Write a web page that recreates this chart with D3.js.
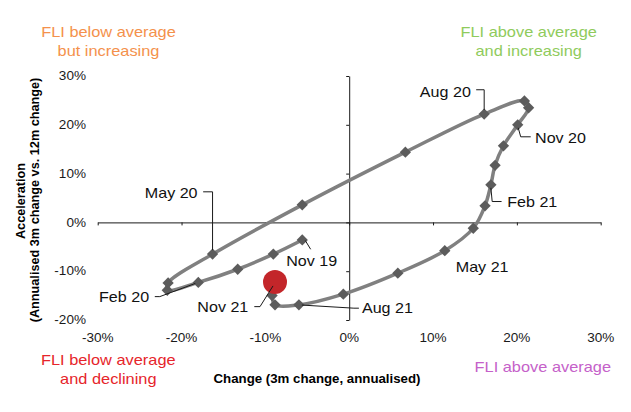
<!DOCTYPE html>
<html>
<head>
<meta charset="utf-8">
<script src="https://cdn.jsdelivr.net/npm/d3@7"></script>
<style>
  html, body { margin: 0; padding: 0; background: #ffffff; }
  svg { display: block; font-family: "Liberation Sans", Arial, sans-serif; }
</style>
</head>
<body>
<svg id="chart" width="631" height="412"></svg>
<script>
// ---------- data ----------
const months = ["Nov 19","Dec 19","Jan 20","Feb 20","Mar 20","Apr 20","May 20","Jun 20","Jul 20","Aug 20",
  "Sep 20","Oct 20","Nov 20","Dec 20","Jan 21","Feb 21","Mar 21","Apr 21","May 21","Jun 21","Jul 21",
  "Aug 21","Sep 21","Oct 21","Nov 21"];
const changeVals = [-5.6,-9.05,-13.3,-18.0,-21.7,-21.6,-16.3,-5.6,6.7,16.1,
  20.9,21.4,20.1,18.4,17.4,16.9,16.2,14.8,11.4,5.8,-0.7,
  -6.0,-8.85,-9.2,-8.85];
const accelVals = [-3.6,-6.5,-9.6,-12.3,-13.9,-12.4,-6.5,3.6,14.4,22.2,
  24.9,23.5,20.0,15.7,11.7,7.7,3.4,-1.2,-5.8,-10.4,-14.7,
  -16.9,-16.9,-15.0,-12.2];
const labelledMonths = ["Nov 19","Feb 20","May 20","Aug 20","Nov 20","Feb 21","May 21","Aug 21","Nov 21"];
const highlightMonth = "Nov 21";
const xTicks = [-30,-20,-10,0,10,20,30];
const yTicks = [-20,-10,0,10,20,30];
const xTitle = "Change (3m change, annualised)";
const yTitle1 = "Acceleration";
const yTitle2 = "(Annualised 3m change vs. 12m change)";
const quadrantTexts = [
  ["FLI below average", "but increasing"],
  ["FLI above average", "and increasing"],
  ["FLI below average", "and declining"],
  ["FLI above average"]
];

// ---------- layout (pixel placement, not data) ----------
const quadrantLayout = [
  {x: 108.5, y: 36.7, color: "#f4914c"},
  {x: 528.7, y: 36.7, color: "#8fcb5c"},
  {x: 108.3, y: 365,  color: "#e6252b"},
  {x: 542.8, y: 371.7, color: "#c561c9"}
];
// label offsets relative to the marker, plus leader polylines (first point = leader start)
const labelLayout = {
  "Nov 19": {dx: -16, dy: 25.7, anchor: "start", leader: [[3,0.5],[8.4,9.3]]},
  "Feb 20": {dx: -49.2, dy: 19.8, anchor: "end", leader: [[-43.5,14.2],[-38.5,14.2],[-3,1]]},
  "May 20": {dx: -15, dy: -56.3, anchor: "end", leader: [[-9.4,-62.3],[0,-62.3],[0,-4]]},
  "Aug 20": {dx: -13.3, dy: -16.6, anchor: "end", leader: [[-8,-24.3],[0,-24.3],[0,-4]]},
  "Nov 20": {dx: 17.3, dy: 18.3, anchor: "start", leader: [[0.5,3],[3,12],[13,12]]},
  "Feb 21": {dx: 16.3, dy: 22.3, anchor: "start", leader: [[0,3],[1.3,16.7],[10.7,16.7]]},
  "May 21": {dx: 11, dy: 21.6, anchor: "start", leader: null},
  "Aug 21": {dx: 63, dy: 8.3, anchor: "start", leader: [[3,0.2],[55,3.3],[60,3.3]]},
  "Nov 21": {dx: -26.7, dy: 30.3, anchor: "end", leader: [[-20.7,24.7],[-15,24.7],[-2,4]]}
};

const svg = d3.select("#chart");
const x = d3.scaleLinear().domain([-30, 30]).range([97.7, 600.7]);
const y = d3.scaleLinear().domain([-20, 30]).range([320, 76]);

function stretchedText(g, tx, ty, str, opts) {
  const t = g.append("text")
    .attr("transform", `translate(${tx},${ty}) scale(${opts.sx || 1},1)`)
    .attr("text-anchor", opts.anchor || "start")
    .attr("font-size", opts.size)
    .attr("fill", opts.color || "#1a1a1a")
    .text(str);
  if (opts.weight) t.attr("font-weight", opts.weight);
  if (opts.dy) t.attr("dy", opts.dy);
  return t;
}

// ---------- axes ----------
const yAxis = d3.axisLeft(y).tickValues(yTicks).tickSize(3).tickSizeOuter(0).tickFormat("");
const xAxis = d3.axisBottom(x).tickValues(xTicks).tickSize(3).tickSizeOuter(0).tickFormat("");
const gy = svg.append("g").attr("transform", `translate(${x(0)},0)`).call(yAxis);
const gx = svg.append("g").attr("transform", `translate(0,${y(0)})`).call(xAxis);
[gx, gy].forEach(g => {
  g.selectAll("path, line").attr("stroke", "#1a1a1a").attr("stroke-width", 1);
});

// tick labels
const tl = svg.append("g");
yTicks.forEach(v => stretchedText(tl, 86, y(v), v + "%", {size: 12, sx: 1.13, anchor: "end", dy: "0.35em"}));
xTicks.forEach(v => stretchedText(tl, x(v), 342, v + "%", {size: 12, sx: 1.13, anchor: "middle"}));

// axis titles
stretchedText(svg, 317, 382.7, xTitle, {size: 13, sx: 1.02, anchor: "middle", weight: "bold", color: "#000"});
svg.append("text").attr("transform", "translate(25,201) rotate(-90)")
  .attr("text-anchor", "middle").attr("font-size", 12.7).attr("font-weight", "bold").attr("fill", "#000")
  .text(yTitle1);
svg.append("text").attr("transform", "translate(38.5,200) rotate(-90)")
  .attr("text-anchor", "middle").attr("font-size", 12.7).attr("font-weight", "bold").attr("fill", "#000")
  .text(yTitle2);

// quadrant texts
quadrantTexts.forEach((lines, i) => {
  const L = quadrantLayout[i];
  lines.forEach((s, j) => stretchedText(svg, L.x, L.y + j * 19, s, {size: 14, sx: 1.17, anchor: "middle", color: L.color}));
});

// ---------- series ----------
const pts = months.map((m, i) => ({m, cx: changeVals[i], cy: accelVals[i]}));
const line = d3.line().x(d => x(d.cx)).y(d => y(d.cy)).curve(d3.curveCatmullRom.alpha(0.5));
svg.append("path").datum(pts).attr("d", line)
  .attr("fill", "none").attr("stroke", "#808080").attr("stroke-width", 3.5).attr("stroke-linejoin", "round");

svg.append("g").selectAll("path").data(pts.filter(d => d.m !== highlightMonth)).join("path")
  .attr("d", d3.symbol(d3.symbolSquare, 64)())
  .attr("transform", d => `translate(${x(d.cx)},${y(d.cy)}) rotate(45)`)
  .attr("fill", "#5c5c5c");

// highlight
const hp = pts.find(d => d.m === highlightMonth);
svg.append("circle").attr("cx", x(hp.cx)).attr("cy", y(hp.cy)).attr("r", 12).attr("fill", "#c3262a");

// ---------- data labels ----------
const lg = svg.append("g");
labelledMonths.forEach(m => {
  const p = pts.find(d => d.m === m);
  const px = x(p.cx), py = y(p.cy);
  const L = labelLayout[m];
  if (L.leader) {
    lg.append("path")
      .attr("d", d3.line()(L.leader.map(q => [px + q[0], py + q[1]])))
      .attr("fill", "none").attr("stroke", "#1a1a1a").attr("stroke-width", 1);
  }
  stretchedText(lg, px + L.dx, py + L.dy, m, {size: 14, sx: 1.15, anchor: L.anchor, color: "#111"});
});
</script>
</body>
</html>
